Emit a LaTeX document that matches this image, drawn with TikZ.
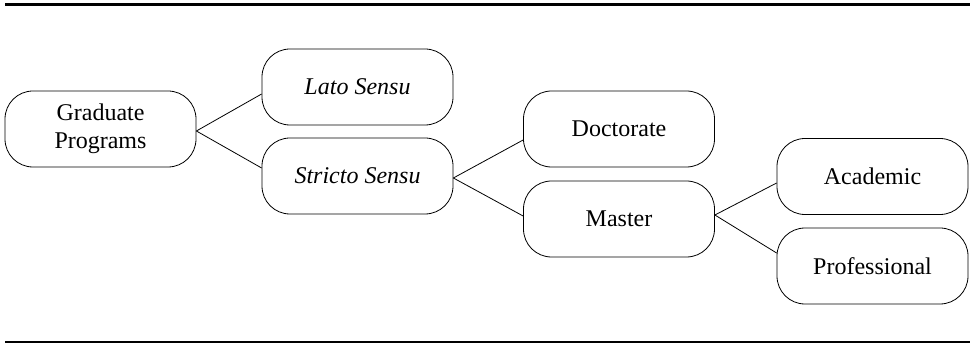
\documentclass[tikz,border=0pt]{standalone}
\usepackage{fontspec}
\setmainfont{Liberation Serif}
\begin{document}
\begin{tikzpicture}[x=1pt,y=-1pt,
  box/.style={draw, line width=0.8pt, rounded corners=28pt, minimum width=191pt, minimum height=76pt, align=center, inner sep=0pt, font=\fontsize{24}{28}\selectfont},
  link/.style={line width=0.8pt}]
\useasboundingbox (0,0) rectangle (972,347);
\draw[line width=3pt] (5,5) -- (970,5);
\draw[line width=1.1pt] (5,342) -- (970,342);
\node[box] (G) at (100.5,129) {Graduate\\Programs};
\node[box] (L) at (357.5,87) {\textit{Lato Sensu}};
\node[box] (S) at (357.5,176) {\textit{Stricto Sensu}};
\node[box] (D) at (619,129) {Doctorate};
\node[box] (M) at (619,219) {Master};
\node[box] (A) at (872.5,176.5) {Academic};
\node[box] (P) at (872.5,266) {Professional};
\draw[link] ([yshift=-2pt]G.east) -- ([yshift=-7pt]L.west);
\draw[link] ([yshift=-2pt]G.east) -- ([yshift=8pt]S.west);
\draw[link] ([yshift=-2pt]S.east) -- ([yshift=-11pt]D.west);
\draw[link] ([yshift=-2pt]S.east) -- ([yshift=3pt]M.west);
\draw[link] ([yshift=4pt]M.east) -- ([yshift=-6.5pt]A.west);
\draw[link] ([yshift=4pt]M.east) -- ([yshift=13pt]P.west);
\end{tikzpicture}
\end{document}
